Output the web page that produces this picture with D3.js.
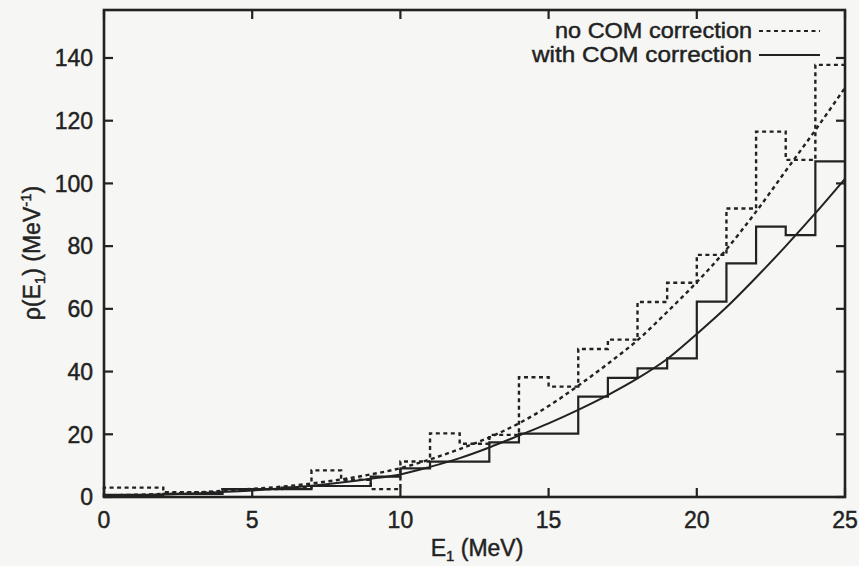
<!DOCTYPE html>
<html><head><meta charset="utf-8">
<script src="https://cdn.jsdelivr.net/npm/d3@7"></script>
<style>
html,body{margin:0;padding:0;background:#f6f6f4;}
svg{display:block;}
text{font-family:"Liberation Sans",Arial,Helvetica,sans-serif;fill:#222;stroke:#222;stroke-width:0.45;}
</style></head>
<body>
<svg id="chart" width="859" height="566"></svg>
<script>
// ---- data ----
const binStart = [0,1,2,3,4,5,6,7,8,9,10,11,12,13,14,15,16,17,18,19,20,21,22,23,24];
const binWidth = 1;
const noCOMHist   = [3,3,1.5,1.5,2.5,2.5,3,8.5,5.5,2.5,11.3,20.3,17,19.8,38.2,35.2,47.2,50.2,62.2,68.3,77.2,92,116.5,107.5,137.8];
const withCOMHist = [0.7,0.7,1.0,1.0,2.5,2.5,2.5,3.5,3.5,6.5,9.1,11.3,11.3,17.4,20.2,20.2,32,38,41,44.2,62.3,74.5,86.2,83.5,107];
const curveE        = [0,1,2,3,4,5,6,7,8,9,10,11,12,13,14,15,16,17,18,19,20,21,22,23,24,25];
const noCOMCurve    = [0.5,0.7,1.0,1.4,2.0,2.6,3.3,4.3,5.6,7.2,9.2,12.0,15.3,19.0,23.5,29,35.5,42.5,50,59,68.5,79,91,104,117,130.5];
const withCOMCurve  = [0.3,0.5,0.8,1.1,1.6,2.1,2.8,3.6,4.6,5.8,7.2,9.6,12.4,15.8,19.6,23.5,27.8,32.5,37.8,44,52,60.5,70,80,90.5,101.5];
const xTicks = [0,5,10,15,20,25];
const yTicks = [0,20,40,60,80,100,120,140];
const legendLabels = ["no COM correction","with COM correction"];

// ---- layout ----
const svg = d3.select("#chart");
const L = 104, R = 845, T = 10, B = 497;
const x = d3.scaleLinear().domain([0,25]).range([L,R]);
const y = d3.scaleLinear().domain([0,155.3]).range([B,T]);
const ink = "#222";
const dash = "4,3.5";

// ticks (inward on all four sides)
const tl = 9;
const g = svg.append("g");
xTicks.forEach(t=>{
  g.append("line").attr("x1",x(t)).attr("x2",x(t)).attr("y1",B).attr("y2",B-tl).attr("stroke",ink).attr("stroke-width",2.2);
  g.append("line").attr("x1",x(t)).attr("x2",x(t)).attr("y1",T).attr("y2",T+tl).attr("stroke",ink).attr("stroke-width",2.2);
  g.append("text").attr("x",x(t)).attr("y",520).attr("dy","0.35em").attr("text-anchor","middle").attr("font-size",23).text(t);
});
yTicks.forEach(t=>{
  g.append("line").attr("x1",L).attr("x2",L+tl).attr("y1",y(t)).attr("y2",y(t)).attr("stroke",ink).attr("stroke-width",2.2);
  g.append("line").attr("x1",R).attr("x2",R-tl).attr("y1",y(t)).attr("y2",y(t)).attr("stroke",ink).attr("stroke-width",2.2);
  g.append("text").attr("x",93).attr("y",y(t)).attr("dy","0.36em").attr("text-anchor","end").attr("font-size",23).text(t);
});

// histograms as steps
function stepPts(vals){
  const pts = [[binStart[0],0]];
  vals.forEach((v,i)=>pts.push([binStart[i],v]));
  pts.push([binStart[binStart.length-1]+binWidth, vals[vals.length-1]]);
  return pts;
}
const stepLine = d3.line().x(d=>x(d[0])).y(d=>y(d[1])).curve(d3.curveStepAfter);
svg.append("path").attr("d",stepLine(stepPts(noCOMHist))).attr("fill","none")
  .attr("stroke",ink).attr("stroke-width",2.4).attr("stroke-dasharray",dash);
svg.append("path").attr("d",stepLine(stepPts(withCOMHist))).attr("fill","none")
  .attr("stroke",ink).attr("stroke-width",2.2);

// smooth curves
const smooth = d3.line().x((d,i)=>x(curveE[i])).y(d=>y(d)).curve(d3.curveMonotoneX);
svg.append("path").attr("d",smooth(noCOMCurve)).attr("fill","none")
  .attr("stroke",ink).attr("stroke-width",2.4).attr("stroke-dasharray",dash);
svg.append("path").attr("d",smooth(withCOMCurve)).attr("fill","none")
  .attr("stroke",ink).attr("stroke-width",2);

// frame
svg.append("rect").attr("x",L).attr("y",T).attr("width",R-L).attr("height",B-T)
  .attr("fill","none").attr("stroke",ink).attr("stroke-width",2.6);

// legend
const legY = [31,55];
legendLabels.forEach((lab,i)=>{
  svg.append("text").attr("x",752).attr("y",legY[i]).attr("dy","0.33em").attr("text-anchor","end")
    .attr("font-size",22).attr("textLength", i===0?197:220).attr("lengthAdjust","spacingAndGlyphs").text(lab);
  const ln = svg.append("line").attr("x1",759).attr("x2",820).attr("y1",legY[i]).attr("y2",legY[i])
    .attr("stroke",ink).attr("stroke-width",2.2);
  if(i===0) ln.attr("stroke-dasharray",dash);
});

// axis labels
const xl = svg.append("text").attr("x",477).attr("y",548).attr("dy","0.35em").attr("text-anchor","middle").attr("font-size",23);
xl.append("tspan").text("E");
xl.append("tspan").attr("font-size",15).attr("dy","0.35em").text("1");
xl.append("tspan").attr("dy","-0.25em").text(" (MeV)");

const yl = svg.append("text").attr("transform","translate(40,253) rotate(-90)").attr("text-anchor","middle").attr("font-size",23);
yl.append("tspan").text("ρ(E");
yl.append("tspan").attr("font-size",15).attr("dy","0.35em").text("1");
yl.append("tspan").attr("dy","-0.25em").text(") (MeV");
yl.append("tspan").attr("font-size",15).attr("dy","-0.55em").text("-1");
yl.append("tspan").attr("dy","0.4em").text(")");
</script>
</body></html>
